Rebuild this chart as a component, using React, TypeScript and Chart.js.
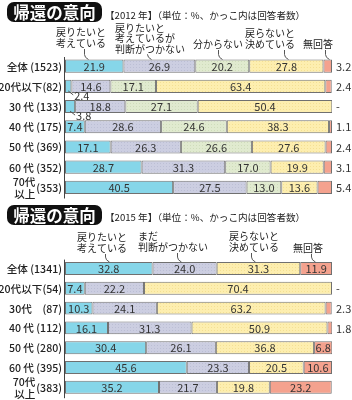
import React, { useEffect, useRef } from 'react';
import { Chart, registerables } from 'chart.js';
Chart.register(...registerables);

const FONT = '"Noto Sans CJK JP", "Noto Sans", sans-serif';

// ---------- 2012 ----------
const rows2012 = ['全体 (1523)', '20代以下(82)', '30 代 (133)', '40 代 (175)', '50 代 (369)', '60 代 (352)', '70代\n以上 (353)'];
const series2012 = ['戻りたいと考えている', '戻りたいと考えているが判断がつかない', '分からない', '戻らないと決めている', '無回答'];
const headers2012 = [['戻りたいと', '考えている'], ['戻りたいと', '考えているが', '判断がつかない'], ['分からない'], ['戻らないと', '決めている'], ['無回答']];
const wantReturn2012 = [21.9, 2.4, 3.8, 7.4, 17.1, 28.7, 40.5];
const undecided2012 = [26.9, 14.6, 18.8, 28.6, 26.3, 31.3, 27.5];
const unknown2012 = [20.2, 17.1, 27.1, 24.6, 26.6, 17.0, 13.0];
const noReturn2012 = [27.8, 63.4, 50.4, 38.3, 27.6, 19.9, 13.6];
const noAnswer2012 = [3.2, 2.4, 0, 1.1, 2.4, 3.1, 5.4];

// ---------- 2015 ----------
const rows2015 = ['全体 (1341)', '20代以下(54)', '30代　(87)', '40 代 (112)', '50 代 (280)', '60 代 (395)', '70代\n以上 (383)'];
const series2015 = ['戻りたいと考えている', 'まだ判断がつかない', '戻らないと決めている', '無回答'];
const headers2015 = [['戻りたいと', '考えている'], ['まだ', '判断がつかない'], ['戻らないと', '決めている'], ['無回答']];
const wantReturn2015 = [32.8, 7.4, 10.3, 16.1, 30.4, 45.6, 35.2];
const undecided2015 = [24.0, 22.2, 24.1, 31.3, 26.1, 23.3, 21.7];
const noReturn2015 = [31.3, 70.4, 63.2, 50.9, 36.8, 20.5, 19.8];
const noAnswer2015 = [11.9, 0, 2.3, 1.8, 6.8, 10.6, 23.2];

const TITLE = '帰還の意向';
const subtitle2012 = '【2012 年】（単位：%、かっこ内は回答者数）';
const subtitle2015 = '【2015 年】（単位：%、かっこ内は回答者数）';

// colours: [base, dot]
const C_CYAN: [string, string | null] = ['#86d6e9', null];
const C_GRAY: [string, string | null] = ['#cccee1', '#bcbfd5'];
const C_GREEN: [string, string | null] = ['#e0eacf', '#cfdcbb'];
const C_YELLOW: [string, string | null] = ['#fdeeaf', '#f4e094'];
const C_SALMON: [string, string | null] = ['#f4a28e', null];

function makeFill(c: [string, string | null]): any {
  if (!c[1]) return c[0];
  const cv = document.createElement('canvas');
  cv.width = 3; cv.height = 3;
  const g = cv.getContext('2d')!;
  g.fillStyle = c[0]; g.fillRect(0, 0, 3, 3);
  g.fillStyle = c[1]; g.fillRect(1, 1, 1, 1);
  return g.createPattern(cv, 'repeat');
}

type Cfg = {
  rows: string[];
  series: string[];
  values: number[][];
  colors: [string, string | null][];
  headers: string[][];
  headerX: number[];
  headerBottomY: number[];
  leaderX: number[];
  subtitle: string;
  titleTop: number;
  subtitleY: number;
  padTop: number;
  padBottom: number;
  lastAlwaysOutside: boolean;
};

const annotPlugin = {
  id: 'annot',
  afterDatasetsDraw(chart: any, _args: any, opts: any) {
    const cfg: Cfg = opts.cfg;
    const ctx: CanvasRenderingContext2D = chart.ctx;
    const ca = chart.chartArea;
    ctx.save();

    // title box
    ctx.fillStyle = '#111';
    ctx.beginPath();
    (ctx as any).roundRect(7, cfg.titleTop, 95, 20, 7);
    ctx.fill();
    ctx.fillStyle = '#fff';
    ctx.font = `bold 16.5px ${FONT}`;
    ctx.textAlign = 'center';
    ctx.textBaseline = 'middle';
    ctx.fillText(TITLE, 54.5, cfg.titleTop + 10.5);

    // subtitle
    ctx.fillStyle = '#222';
    ctx.font = `9.6px ${FONT}`;
    ctx.textAlign = 'left';
    ctx.fillText(cfg.subtitle, 105, cfg.subtitleY);

    // axis line
    ctx.strokeStyle = '#444';
    ctx.lineWidth = 1;
    const ax = Math.round(ca.left) - 0.5;
    ctx.beginPath();
    ctx.moveTo(ax, ca.top + 1);
    ctx.lineTo(ax, ca.bottom + 1);
    ctx.stroke();

    const meta0 = chart.getDatasetMeta(0);
    // row labels
    ctx.fillStyle = '#222';
    ctx.font = `500 10.6px ${FONT}`;
    ctx.textBaseline = 'middle';
    cfg.rows.forEach((lab, i) => {
      const y = meta0.data[i].y;
      const rx = ca.left - 3;
      ctx.textAlign = 'right';
      if (lab.includes('\n')) {
        const [a, rest] = lab.split('\n');
        const p = rest.indexOf('(');
        const b = rest.slice(0, p).trim();
        const cnt = rest.slice(p);
        ctx.fillText(cnt, rx, y + 0.5);
        const w = ctx.measureText(cnt).width;
        ctx.fillText(a, rx - w - 1, y - 5.5);
        ctx.fillText(b, rx - w - 1, y + 6.5);
      } else {
        ctx.fillText(lab, rx, y + 0.5);
      }
    });

    // value labels
    const nds = chart.data.datasets.length;
    chart.data.datasets.forEach((ds: any, di: number) => {
      const meta = chart.getDatasetMeta(di);
      meta.data.forEach((bar: any, i: number) => {
        const v = ds.data[i] as number;
        const p = bar.getProps(['x', 'base', 'y', 'height'], true);
        const txt = v === 0 ? '-' : v.toFixed(1);
        ctx.font = `11px ${FONT}`;
        ctx.fillStyle = '#333';
        ctx.textBaseline = 'middle';
        const isLast = di === nds - 1;
        if (isLast && (cfg.lastAlwaysOutside || v < 5)) {
          ctx.textAlign = 'left';
          ctx.fillText(txt, ca.right + 4, p.y + 0.5);
        } else if (v < 5) {
          // small first segment: label below-right with leader
          const bx = (p.x + p.base) / 2;
          const yb = p.y + p.height / 2;
          ctx.strokeStyle = '#555';
          ctx.beginPath();
          ctx.moveTo(bx, yb - 2);
          ctx.lineTo(bx + 5, yb + 2);
          ctx.stroke();
          ctx.textAlign = 'left';
          ctx.fillText(txt, bx + 6, yb + 3);
        } else {
          ctx.textAlign = 'center';
          ctx.fillText(txt, (p.x + p.base) / 2, p.y + 0.5);
        }
      });
    });

    // headers with leader lines
    const first = meta0.data[0];
    const barTop = first.y - first.height / 2;
    ctx.font = `10px ${FONT}`;
    ctx.fillStyle = '#222';
    ctx.textAlign = 'left';
    ctx.textBaseline = 'middle';
    cfg.headers.forEach((lines, hi) => {
      const x = cfg.headerX[hi];
      const yb = cfg.headerBottomY[hi];
      lines.forEach((ln, li) => {
        ctx.fillText(ln, x, yb - (lines.length - 1 - li) * 10.5);
      });
      const lx = cfg.leaderX[hi] + 0.5;
      ctx.strokeStyle = '#555';
      ctx.beginPath();
      ctx.moveTo(lx, yb + 6);
      ctx.lineTo(lx, barTop - 5);
      ctx.quadraticCurveTo(lx, barTop - 2, lx + 4, barTop);
      ctx.stroke();
    });

    ctx.restore();
  },
};

function makeChart(canvas: HTMLCanvasElement, cfg: Cfg) {
  return new Chart(canvas, {
    type: 'bar',
    data: {
      labels: cfg.rows,
      datasets: cfg.series.map((s, i) => ({
        label: s,
        data: cfg.values[i],
        backgroundColor: makeFill(cfg.colors[i]),
        borderColor: '#707070',
        borderWidth: 1,
        borderSkipped: false,
        barPercentage: 0.65,
        categoryPercentage: 1,
      })),
    },
    options: {
      indexAxis: 'y',
      responsive: false,
      maintainAspectRatio: false,
      animation: false,
      layout: { padding: { top: cfg.padTop, bottom: cfg.padBottom, left: 65, right: 20 } },
      scales: {
        x: { stacked: true, min: 0, max: 100, display: false },
        y: { stacked: true, display: false },
      },
      plugins: {
        legend: { display: false },
        tooltip: { enabled: false },
        annot: { cfg },
      } as any,
    },
    plugins: [annotPlugin],
  } as any);
}

const cfg2012: Cfg = {
  rows: rows2012,
  series: series2012,
  values: [wantReturn2012, undecided2012, unknown2012, noReturn2012, noAnswer2012],
  colors: [C_CYAN, C_GRAY, C_GREEN, C_YELLOW, C_SALMON],
  headers: headers2012,
  headerX: [56, 115, 193, 245, 303],
  headerBottomY: [43, 49, 44, 44, 44],
  leaderX: [84, 147, 218, 284, 325],
  subtitle: subtitle2012,
  titleTop: 2,
  subtitleY: 15,
  padTop: 56,
  padBottom: 2.5,
  lastAlwaysOutside: true,
};

const cfg2015: Cfg = {
  rows: rows2015,
  series: series2015,
  values: [wantReturn2015, undecided2015, noReturn2015, noAnswer2015],
  colors: [C_CYAN, C_GRAY, C_YELLOW, C_SALMON],
  headers: headers2015,
  headerX: [77, 138, 229, 293],
  headerBottomY: [48, 47, 47, 48],
  leaderX: [105, 177, 251, 311],
  subtitle: subtitle2015,
  titleTop: 5,
  subtitleY: 17,
  padTop: 58.6,
  padBottom: 2.8,
  lastAlwaysOutside: false,
};

export default function App() {
  const ref1 = useRef<HTMLCanvasElement>(null);
  const ref2 = useRef<HTMLCanvasElement>(null);
  useEffect(() => {
    const c1 = makeChart(ref1.current!, cfg2012);
    const c2 = makeChart(ref2.current!, cfg2015);
    return () => {
      c1.destroy();
      c2.destroy();
    };
  }, []);
  return (
    <div style={{ position: 'fixed', left: 0, top: 0, width: 352, height: 400, background: '#fff' }}>
      <canvas ref={ref1} width={352} height={200} style={{ position: 'absolute', left: 0, top: 0, width: 352, height: 200 }} />
      <canvas ref={ref2} width={352} height={200} style={{ position: 'absolute', left: 0, top: 200, width: 352, height: 200 }} />
    </div>
  );
}
